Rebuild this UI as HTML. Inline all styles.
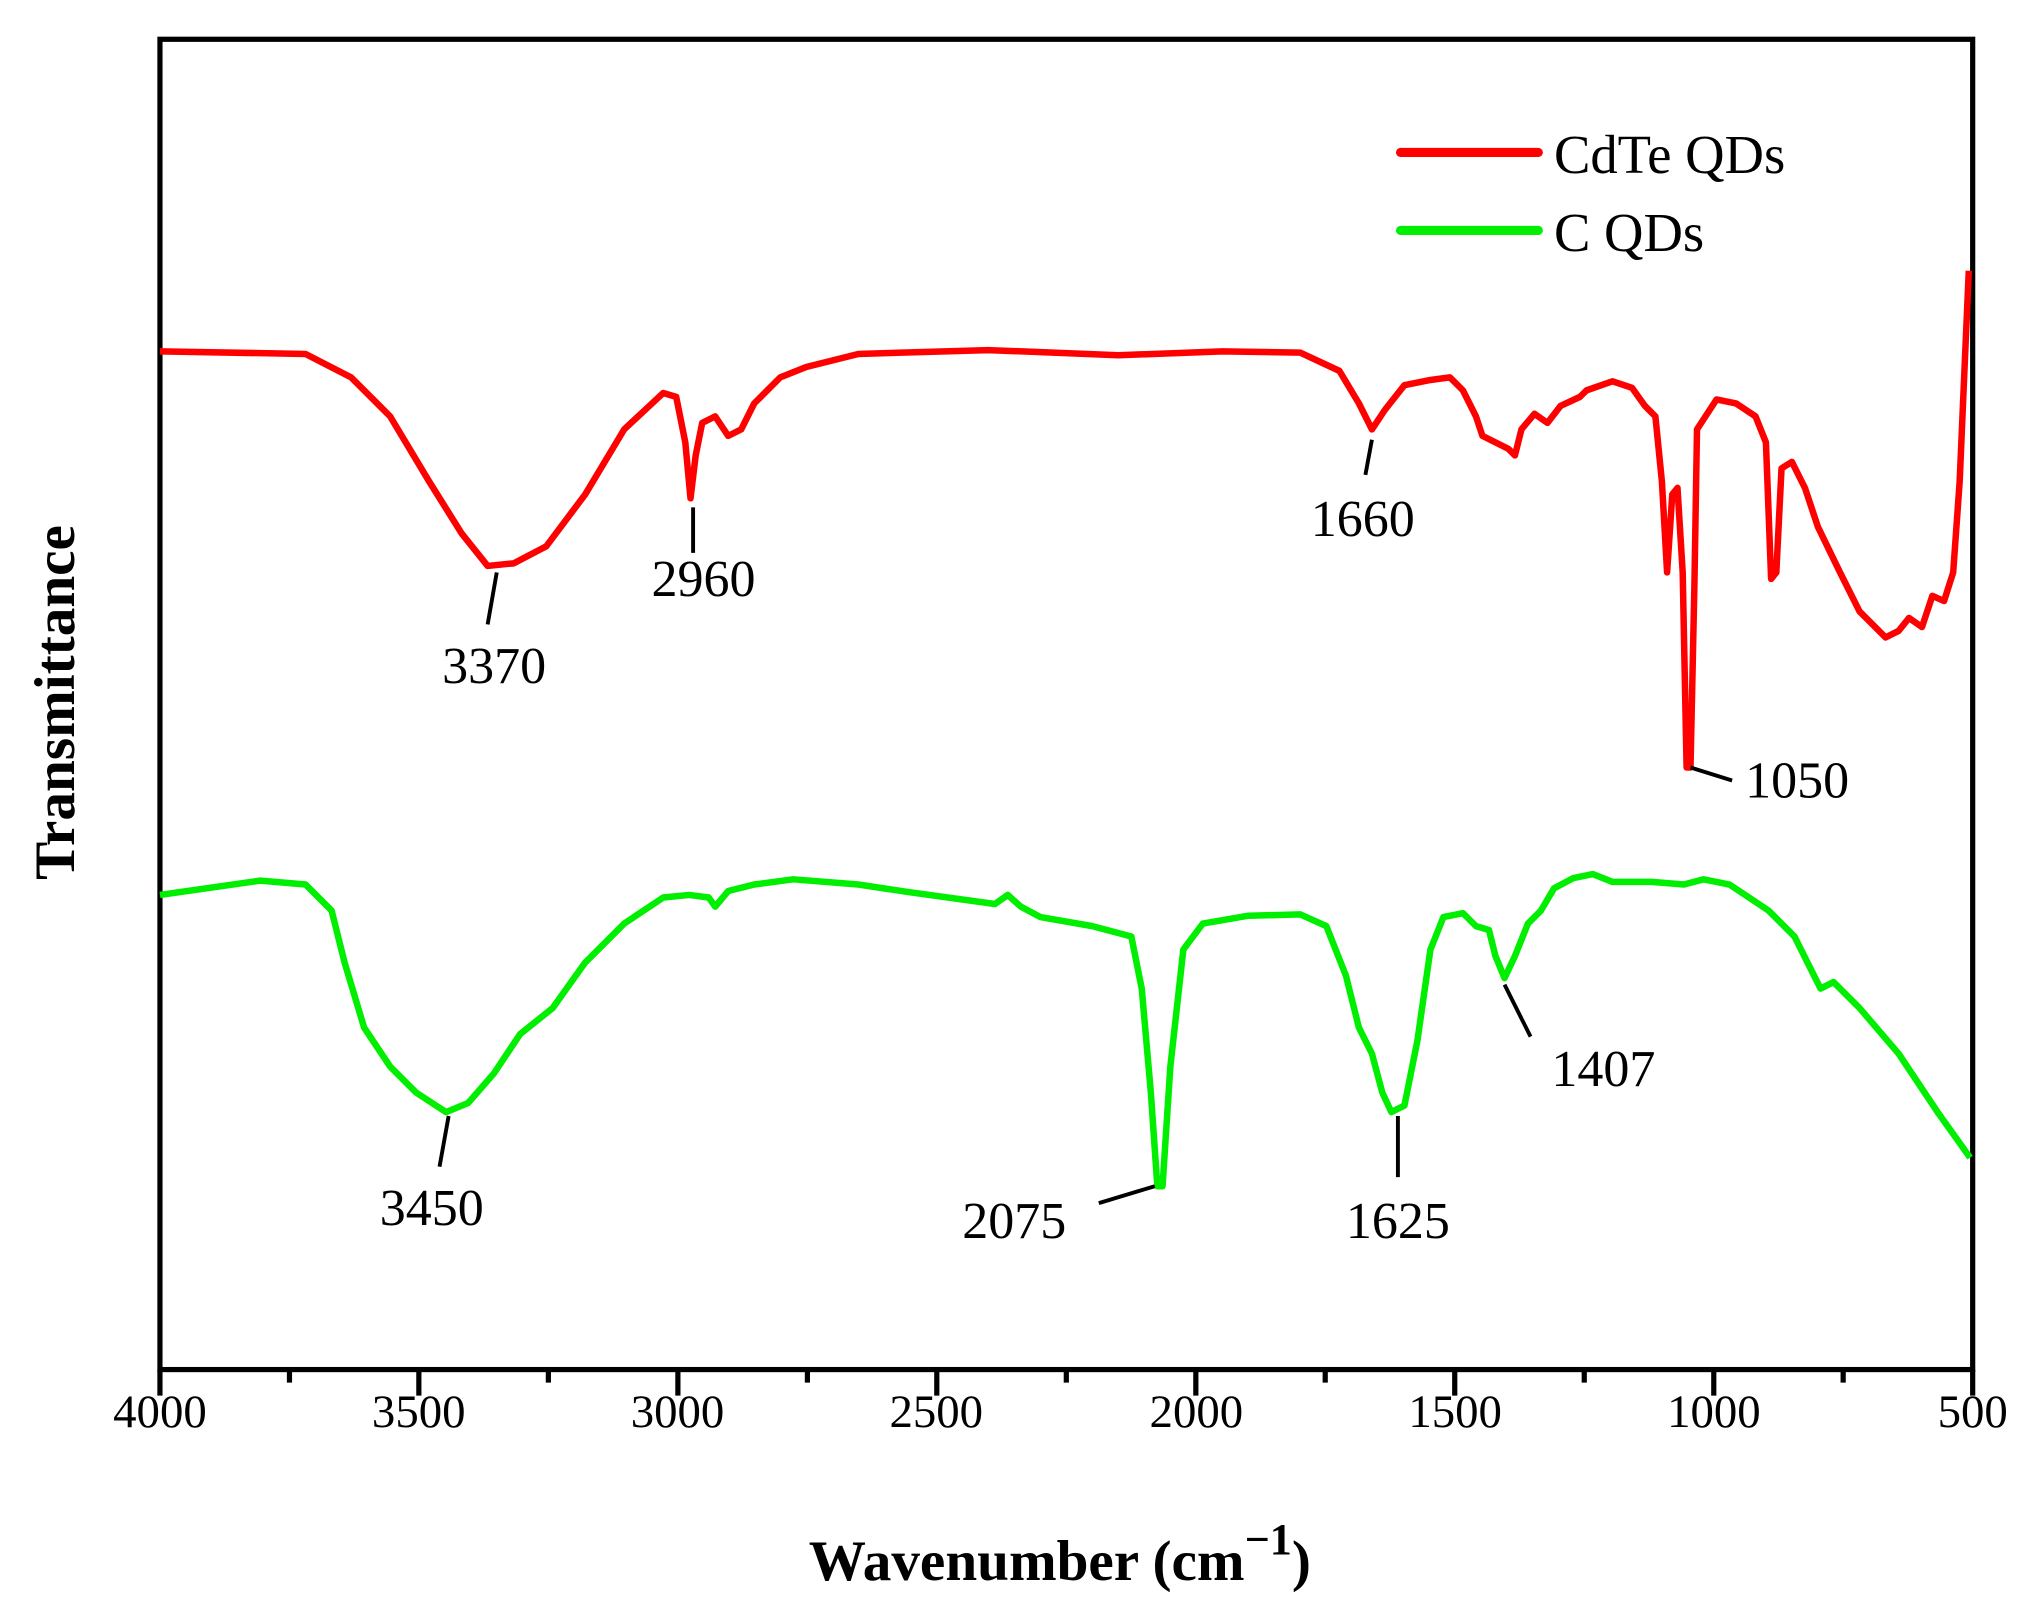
<!DOCTYPE html>
<html><head><meta charset="utf-8"><style>html,body{margin:0;padding:0;background:#fff}svg{display:block}</style></head>
<body>
<svg width="2039" height="1613" viewBox="0 0 1568 1240" xmlns="http://www.w3.org/2000/svg" font-family="Liberation Serif, serif">
<rect width="1568" height="1240" fill="#fff"/>
<g stroke="#000" stroke-width="4" fill="none">
<rect x="123" y="30" width="1394" height="1023"/>
<path d="M123 1053v20M222.6 1053v10M322.1 1053v20M421.7 1053v10M521.3 1053v20M620.9 1053v10M720.4 1053v20M820 1053v10M919.6 1053v20M1019.1 1053v10M1118.7 1053v20M1218.3 1053v10M1317.9 1053v20M1417.4 1053v10M1517 1053v20"/>
</g>
<g font-size="36" text-anchor="middle" fill="#000">
<text x="123" y="1097">4000</text><text x="322" y="1097">3500</text><text x="521" y="1097">3000</text><text x="720" y="1097">2500</text><text x="920" y="1097">2000</text><text x="1119" y="1097">1500</text><text x="1318" y="1097">1000</text><text x="1517" y="1097">500</text>
</g>
<text x="815" y="1215" font-size="44" font-weight="bold" text-anchor="middle">Wavenumber (cm<tspan dy="-20" font-size="34">−1</tspan><tspan dy="20">)</tspan></text>
<text transform="translate(57,540) rotate(-90)" font-size="44" font-weight="bold" text-anchor="middle">Transmittance</text>
<polyline fill="none" stroke="#ff0000" stroke-width="5" stroke-linejoin="round" points="123,270 235,272 270,290 300,320 330,370 355,410 375,435 395,433 420,420 450,380 480,330 510,302 520,305 527,340 531,383 535,350 540,325 550,320 560,335 570,330 580,310 600,290 620,282 660,272 760,269 860,273 940,270 1000,271 1030,285 1045,310 1055,330 1065,315 1080,296 1100,292 1115,290 1125,300 1135,320 1140,335 1150,340 1160,345 1165,350 1170,330 1180,318 1190,325 1200,312 1215,305 1220,300 1240,293 1255,298 1265,312 1273,320 1278,370 1282,440 1286,380 1290,375 1294,440 1297,590 1300,590 1303,450 1305,330 1320,307 1335,310 1350,320 1358,340 1362,445 1366,440 1370,360 1378,355 1388,375 1398,405 1415,440 1430,470 1450,490 1460,485 1468,475 1478,482 1486,458 1495,462 1502,440 1507,370 1510,300 1514,208"/>
<polyline fill="none" stroke="#00ee00" stroke-width="5" stroke-linejoin="round" points="123,688 200,677 235,680 255,700 265,740 280,790 300,820 320,840 343,855 360,848 380,825 400,795 425,775 450,740 480,710 510,690 530,688 545,690 550,697 560,685 580,680 610,676 660,680 700,686 765,695 775,688 785,697 800,705 840,712 870,720 878,760 885,840 890,912 894,912 900,820 910,730 925,710 960,704 1000,703 1020,712 1035,750 1045,790 1055,810 1063,840 1070,855 1080,850 1090,800 1100,730 1110,705 1125,702 1135,712 1145,715 1150,735 1157,752 1165,735 1175,710 1185,700 1195,683 1210,675 1225,672 1240,678 1270,678 1295,680 1310,676 1330,680 1360,700 1380,720 1400,760 1410,755 1430,775 1460,810 1490,855 1515,890"/>
<line x1="1077" y1="117" x2="1183" y2="117" stroke="#ff0000" stroke-width="7" stroke-linecap="round"/>
<line x1="1077" y1="177" x2="1183" y2="177" stroke="#00ee00" stroke-width="7" stroke-linecap="round"/>
<text x="1195" y="133" font-size="42">CdTe QDs</text>
<text x="1195" y="193" font-size="42">C QDs</text>
<g stroke="#000" stroke-width="3">
<line x1="382" y1="440" x2="375" y2="480"/><line x1="533" y1="390" x2="533" y2="425"/><line x1="1055" y1="338" x2="1050" y2="365"/><line x1="1300" y1="590" x2="1332" y2="600"/>
<line x1="345" y1="858" x2="338" y2="897"/><line x1="888" y1="912" x2="845" y2="925"/><line x1="1075" y1="858" x2="1075" y2="905"/><line x1="1157" y1="757" x2="1177" y2="797"/>
</g>
<g font-size="40" fill="#000" text-anchor="middle">
<text x="380" y="525">3370</text><text x="541" y="458">2960</text><text x="1048" y="412">1660</text><text x="1382" y="613">1050</text>
<text x="332" y="942">3450</text><text x="780" y="952">2075</text><text x="1075" y="952">1625</text><text x="1233" y="835">1407</text>
</g>
</svg>
</body></html>
